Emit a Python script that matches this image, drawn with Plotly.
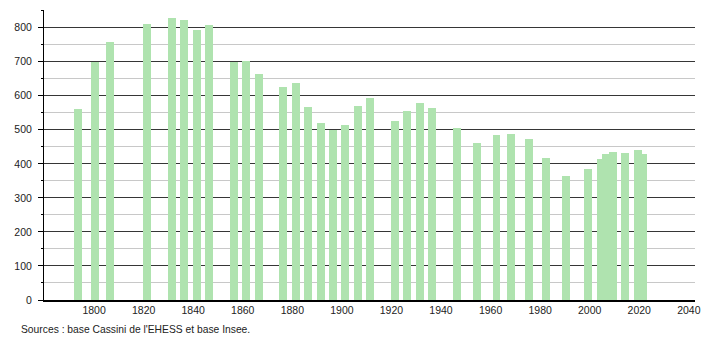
import plotly.graph_objects as go

years = [1793, 1800, 1806, 1821, 1831, 1836, 1841, 1846, 1856, 1861, 1866,
         1876, 1881, 1886, 1891, 1896, 1901, 1906, 1911, 1921, 1926, 1931,
         1936, 1946, 1954, 1962, 1968, 1975, 1982, 1990, 1999, 2004, 2006,
         2009, 2014, 2019, 2021]
population = [562, 698, 759, 812, 829, 824, 794, 809, 698, 703, 665,
              626, 639, 567, 521, 498, 514, 571, 594, 527, 556, 579,
              565, 506, 461, 485, 488, 474, 418, 365, 385, 415, 428,
              435, 431, 441, 430]
x_ticks = [1800, 1820, 1840, 1860, 1880, 1900, 1920, 1940, 1960, 1980, 2000, 2020, 2040]
y_ticks = [0, 100, 200, 300, 400, 500, 600, 700, 800]
source_text = "Sources : base Cassini de l'EHESS et base Insee."

FONT = "Liberation Sans, Arial, sans-serif"

fig = go.Figure()
fig.add_trace(go.Bar(
    x=years, y=population,
    width=3.2, offset=-1.2,
    marker=dict(color="#afe3af", line=dict(width=0)),
    hoverinfo="x+y",
))

fig.update_layout(
    width=710, height=340,
    margin=dict(l=44, r=9, t=10, b=40),
    paper_bgcolor="white", plot_bgcolor="white",
    showlegend=False,
    bargap=0,
    font=dict(family=FONT, size=10.5, color="#222"),
    xaxis=dict(
        range=[1779.8, 2042.5],
        tickvals=x_ticks,
        ticktext=[str(v) for v in x_ticks],
        showgrid=False, zeroline=False,
        showline=True, linecolor="black", linewidth=1.5,
        ticks="", ticklabelstandoff=0,
        tickfont=dict(family=FONT, size=10.5, color="#222"),
        fixedrange=True,
    ),
    yaxis=dict(
        range=[0, 852],
        tickvals=y_ticks,
        showgrid=True, gridcolor="#363636", gridwidth=1,
        zeroline=False,
        showline=True, linecolor="black", linewidth=1,
        ticks="outside", ticklen=5, tickcolor="black", tickwidth=1,
        ticklabelstandoff=4,
        tickfont=dict(family=FONT, size=10.5, color="#222"),
        minor=dict(tickvals=[50, 150, 250, 350, 450, 550, 650, 750, 850],
                   showgrid=True, gridcolor="#c8c8c8", gridwidth=1,
                   ticks="outside", ticklen=2, tickcolor="black"),
        fixedrange=True,
    ),
    annotations=[dict(
        text=source_text, xref="paper", yref="paper",
        x=-44/657, y=-29/290, xanchor="left", yanchor="middle",
        xshift=19, showarrow=False,
        font=dict(family=FONT, size=10.3, color="#222"),
    )],
)

fig.write_html("out.html")
